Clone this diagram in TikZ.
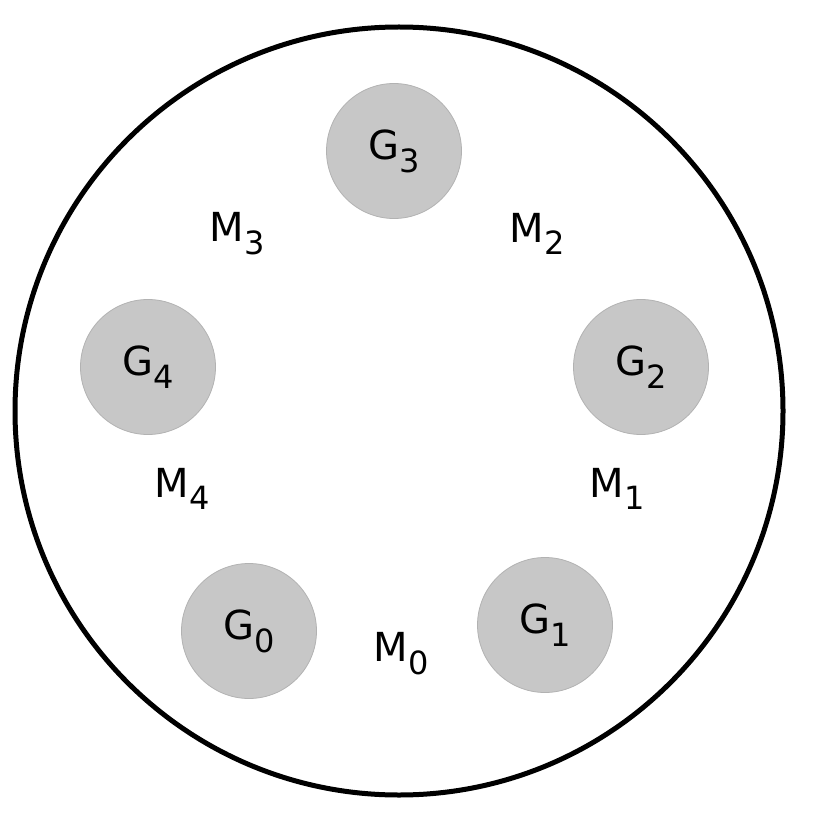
\documentclass[tikz,border=0pt]{standalone}
\usepackage{fontspec}
\setmainfont{DejaVu Sans}
\newcommand{\lblsub}[2]{#1\raisebox{-0.32em}{\fontsize{32}{36}\selectfont #2}}
\begin{document}
\begin{tikzpicture}[x=1pt,y=-1pt,
  gnode/.style={circle,fill=black!22,draw=black!30,line width=0.8pt,minimum size=135pt,inner sep=0pt,font=\fontsize{40}{44}\selectfont},
  mlabel/.style={inner sep=0pt,font=\fontsize{40}{44}\selectfont}]
\useasboundingbox (0,0) rectangle (816,818);
\node[circle,draw=black,line width=5pt,minimum size=768pt,inner sep=0pt] (outer) at (399,411) {};
\node[gnode] (g3) at (394,151) {\lblsub{G}{3}};
\node[gnode] (g2) at (641,367) {\lblsub{G}{2}};
\node[gnode] (g1) at (545,625) {\lblsub{G}{1}};
\node[gnode] (g0) at (249,631) {\lblsub{G}{0}};
\node[gnode] (g4) at (148,367) {\lblsub{G}{4}};
\node[mlabel] (m3) at (237,234) {\lblsub{M}{3}};
\node[mlabel] (m2) at (537,234) {\lblsub{M}{2}};
\node[mlabel] (m1) at (617,489) {\lblsub{M}{1}};
\node[mlabel] (m4) at (182,489) {\lblsub{M}{4}};
\node[mlabel] (m0) at (401,654) {\lblsub{M}{0}};
\end{tikzpicture}
\end{document}
